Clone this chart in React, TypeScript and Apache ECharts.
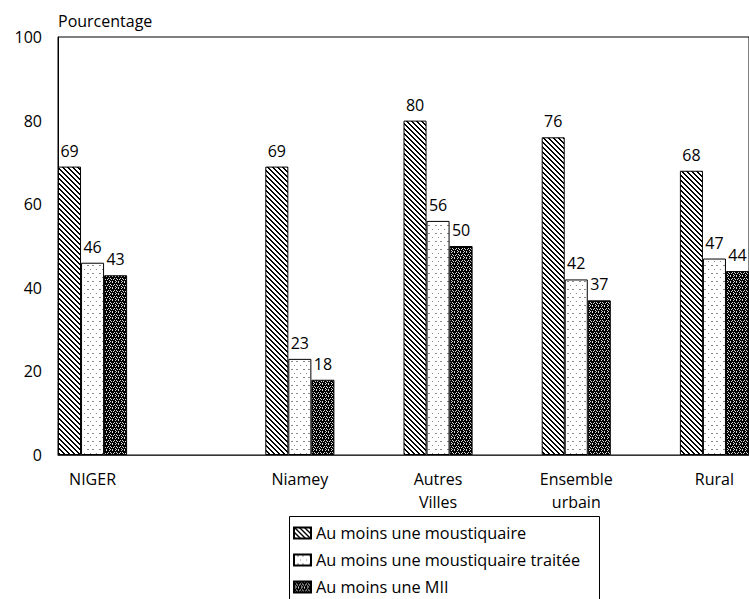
import { useEffect, useRef } from "react";
import * as echarts from "echarts";

// Category slots: empty strings are spacer slots between groups
const categories = ["NIGER", "", "", "Niamey", "", "Autres\nVilles", "", "Ensemble\nurbain", "", "Rural"];
const seriesNames = [
  "Au moins une moustiquaire",
  "Au moins une moustiquaire traitée",
  "Au moins une MII",
];
const moustiquaire = [69, null, null, 69, null, 80, null, 76, null, 68];
const moustiquaireTraitee = [46, null, null, 23, null, 56, null, 42, null, 47];
const mii = [43, null, null, 18, null, 50, null, 37, null, 44];
const yMin = 0;
const yMax = 100;
const yStep = 20;

const FONT = '"Open Sans", Lato, sans-serif';

function makeTile(w: number, h: number, bg: string, fg: string, pixels: [number, number][]) {
  const c = document.createElement("canvas");
  c.width = w;
  c.height = h;
  const ctx = c.getContext("2d")!;
  ctx.fillStyle = bg;
  ctx.fillRect(0, 0, w, h);
  ctx.fillStyle = fg;
  pixels.forEach(([x, y]) => ctx.fillRect(x, y, 1, 1));
  return c;
}

// Diagonal "\" hatching
function hatchTile() {
  const px: [number, number][] = [];
  for (let i = 0; i < 5; i++) {
    px.push([i, i]);
    px.push([(i + 1) % 5, i]);
  }
  return makeTile(5, 5, "#ffffff", "#000000", px);
}

// Sparse grey dots on white
function dotTile() {
  return makeTile(12, 8, "#ffffff", "#8a8a8a", [
    [3, 1], [4, 1], [8, 1], [9, 1],
    [6, 5], [0, 5],
  ]);
}

// Dark speckle
function speckleTile() {
  return makeTile(6, 6, "#000000", "#d8d8d8", [
    [1, 0], [4, 0], [0, 2], [2, 2], [3, 3], [5, 3], [1, 4], [4, 5], [2, 5],
  ]);
}

export default function App() {
  const ref = useRef<HTMLDivElement>(null);

  useEffect(() => {
    if (!ref.current) return;
    const chart = echarts.init(ref.current, undefined, { renderer: "svg" });

    const patterns = [hatchTile(), dotTile(), speckleTile()];
    const values = [moustiquaire, moustiquaireTraitee, mii];

    const series = values.map((data, i) => ({
      name: seriesNames[i],
      type: "bar" as const,
      data,
      barGap: "0%",
      barCategoryGap: "0%",
      itemStyle: {
        color: { image: patterns[i], repeat: "repeat" },
        borderColor: "#000",
        borderWidth: 1,
      },
      label: {
        show: true,
        position: "top" as const,
        distance: 8,
        fontFamily: FONT,
        fontSize: 16,
        color: "#000",
      },
    }));

    chart.setOption({
      animation: false,
      backgroundColor: "#fff",
      textStyle: { fontFamily: FONT },
      grid: {
        left: 58,
        top: 37,
        width: 700,
        height: 418,
        show: true,
        borderColor: "#000",
        borderWidth: 1,
        backgroundColor: "transparent",
      },
      xAxis: {
        type: "category",
        data: categories,
        axisTick: { show: false },
        axisLine: { lineStyle: { color: "#333", width: 1 } },
        axisLabel: {
          interval: 0,
          margin: 12,
          lineHeight: 23,
          fontFamily: FONT,
          fontSize: 16,
          color: "#000",
        },
      },
      yAxis: {
        type: "value",
        min: yMin,
        max: yMax,
        interval: yStep,
        name: "Pourcentage",
        nameLocation: "end",
        nameGap: 8,
        nameTextStyle: {
          align: "left",
          verticalAlign: "bottom",
          fontFamily: FONT,
          fontSize: 16,
          color: "#000",
        },
        axisLine: { show: true, lineStyle: { color: "#000", width: 1 } },
        axisTick: { show: false },
        splitLine: { show: false },
        axisLabel: { margin: 16, fontFamily: FONT, fontSize: 16, color: "#000" },
      },
      legend: {
        orient: "vertical",
        left: 289,
        top: 516,
        padding: [7, 0, 0, 4],
        itemWidth: 17,
        itemHeight: 11,
        itemGap: 7,
        icon: "rect",
        textStyle: { fontFamily: FONT, fontSize: 16.3, color: "#000", lineHeight: 20 },
        data: seriesNames,
      },
      graphic: [
        {
          type: "rect",
          z: -1,
          shape: { x: 289.5, y: 516.5, width: 310, height: 100 },
          style: { fill: "none", stroke: "#000", lineWidth: 1 },
        },
      ],
      series,
    });

    return () => chart.dispose();
  }, []);

  return (
    <div
      ref={ref}
      style={{ position: "absolute", left: 0, top: 0, width: 749, height: 599 }}
    />
  );
}
